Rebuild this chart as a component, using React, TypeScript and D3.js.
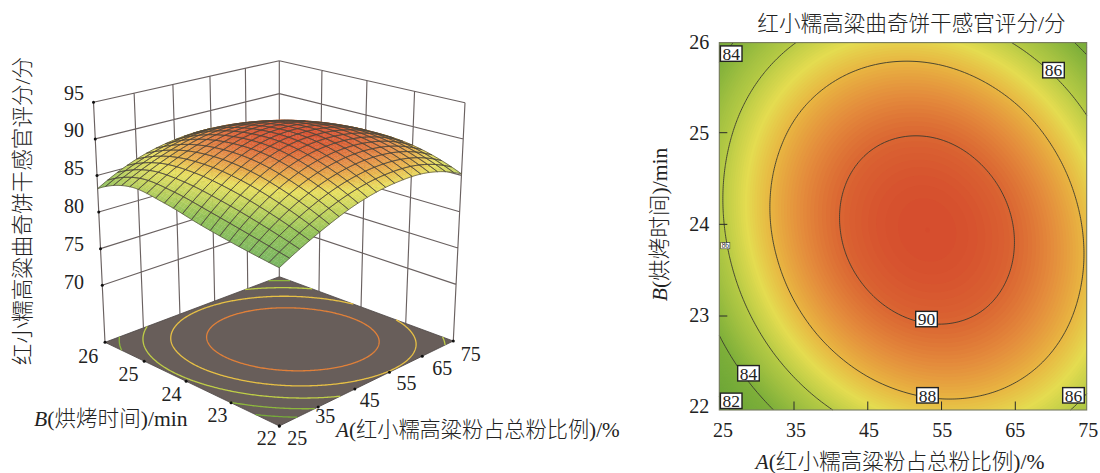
import React, { useMemo } from "react";
import * as d3 from "d3";

// ---------- data ----------
// contour plot (right panel)
const gridA = [25, 30, 35, 40, 45, 50, 55, 60, 65, 70, 75];
const gridB = [22, 22.4, 22.8, 23.2, 23.6, 24, 24.4, 24.8, 25.2, 25.6, 26];
const scoreB220 = [81.46, 83.25, 84.74, 85.91, 86.78, 87.34, 87.6, 87.54, 87.18, 86.51, 85.53];
const scoreB224 = [82.85, 84.63, 86.09, 87.24, 88.08, 88.6, 88.81, 88.71, 88.29, 87.56, 86.51];
const scoreB228 = [83.97, 85.73, 87.17, 88.29, 89.09, 89.58, 89.75, 89.6, 89.13, 88.34, 87.24];
const scoreB232 = [84.83, 86.56, 87.97, 89.06, 89.83, 90.28, 90.4, 90.21, 89.69, 88.85, 87.69];
const scoreB236 = [85.42, 87.12, 88.5, 89.56, 90.29, 90.7, 90.78, 90.54, 89.98, 89.1, 87.89];
const scoreB240 = [85.75, 87.42, 88.76, 89.77, 90.47, 90.83, 90.88, 90.6, 90.0, 89.07, 87.82];
const scoreB244 = [85.82, 87.44, 88.74, 89.71, 90.36, 90.69, 90.7, 90.38, 89.74, 88.77, 87.48];
const scoreB248 = [85.62, 87.19, 88.44, 89.37, 89.98, 90.27, 90.24, 89.88, 89.2, 88.2, 86.89];
const scoreB252 = [85.16, 86.68, 87.88, 88.76, 89.32, 89.57, 89.5, 89.11, 88.4, 87.37, 86.02];
const scoreB256 = [84.43, 85.89, 87.03, 87.86, 88.38, 88.59, 88.48, 88.05, 87.31, 86.26, 84.9];
const scoreB260 = [83.44, 84.83, 85.92, 86.69, 87.16, 87.32, 87.18, 86.72, 85.96, 84.89, 83.51];
const scoreRows = [scoreB220, scoreB224, scoreB228, scoreB232, scoreB236, scoreB240, scoreB244, scoreB248, scoreB252, scoreB256, scoreB260];

// surface heights, A = 25..75 step 10
const surfB220 = [81.4, 84.0, 86.0, 87.0, 86.9, 85.2];
const surfB228 = [82.2, 86.0, 88.4, 89.4, 89.0, 87.1];
const surfB236 = [83.2, 87.4, 89.9, 90.6, 89.9, 87.8];
const surfB244 = [84.4, 88.0, 90.1, 90.6, 89.7, 87.4];
const surfB252 = [85.0, 87.6, 89.2, 89.5, 88.4, 86.0];
const surfB260 = [83.2, 85.8, 87.1, 87.3, 85.9, 83.5];
const surfRows = [surfB220, surfB228, surfB236, surfB244, surfB252, surfB260];

const ticksA = [25, 35, 45, 55, 65, 75];
const ticksB = [22, 23, 24, 25, 26];
const ticksZ = [70, 75, 80, 85, 90, 95];
const contourLevels = [82, 84, 86, 88, 90];
const floorLevels = [83.1, 84.5, 86.1, 87.7, 89.3];
const labelValues = [84, 86, 86, 90, 84, 82, 88, 86];
const labelA = [26.62, 70.48, 25.82, 53.2, 28.97, 26.62, 53.33, 73.2];
const labelB = [25.88, 25.7, 23.79, 22.99, 22.4, 22.1, 22.16, 22.16];
const labelTiny = [false, false, true, false, false, false, false, false];

const scoreStops = [81.5, 84, 85.9, 87, 88, 89, 90, 90.9];
const planeColors = ["#67a336", "#7fb03a", "#b6ca45", "#e4dc50", "#e8b441", "#e48c3c", "#da6432", "#d54b2d"];
const surfaceColors = ["#7ab662", "#96c35a", "#cdd75f", "#e8de5f", "#e8b24b", "#e48c46", "#dc6437", "#d74e30"];

const titleText = "红小糯高粱曲奇饼干感官评分/分";
const aName = "(红小糯高粱粉占总粉比例)/%";
const bName = "(烘烤时间)/min";

// ---------- resampling of the read tables ----------
const ext = (r: number[]) => [3 * r[0] - 3 * r[1] + r[2], ...r, 3 * r[r.length - 1] - 3 * r[r.length - 2] + r[r.length - 3]];
const cubic = (p: number[], x: number) => {
  const f = Math.min(p.length - 4, Math.max(0, Math.floor(x)));
  const t = x - f;
  const [a, b, c, d] = p.slice(f, f + 4);
  return 0.5 * (2 * b + (c - a) * t + (2 * a - 5 * b + 4 * c - d) * t * t + (3 * b - a - 3 * c + d) * t * t * t);
};
const sampler = (rows: number[][]) => {
  const extRows = rows.map(ext);
  const nu = rows[0].length - 1, nv = rows.length - 1;
  return (u: number, v: number) => cubic(ext(extRows.map((r) => cubic(r, u * nu))), v * nv);
};
const scoreAt = sampler(scoreRows);
const surfAt = sampler(surfRows);
const uOf = d3.scaleLinear([25, 75], [0, 1]);
const vOf = d3.scaleLinear([22, 26], [0, 1]);

// ---------- 3D projection ----------
type Pt = [number, number];
const homography = (p0: Pt, p1: Pt, p2: Pt, p3: Pt) => {
  const dx1 = p1[0] - p2[0], dx2 = p3[0] - p2[0], sx = p0[0] - p1[0] + p2[0] - p3[0];
  const dy1 = p1[1] - p2[1], dy2 = p3[1] - p2[1], sy = p0[1] - p1[1] + p2[1] - p3[1];
  const den = dx1 * dy2 - dx2 * dy1;
  const g = (sx * dy2 - dx2 * sy) / den, h = (dx1 * sy - sx * dy1) / den;
  const a = p1[0] - p0[0] + g * p1[0], b = p3[0] - p0[0] + h * p3[0], c = p0[0];
  const d = p1[1] - p0[1] + g * p1[1], e = p3[1] - p0[1] + h * p3[1], f = p0[1];
  return (u: number, v: number): Pt => {
    const w = g * u + h * v + 1;
    return [(a * u + b * v + c) / w, (d * u + e * v + f) / w];
  };
};
const floorAt = homography([279.3, 426], [453.3, 341], [279.3, 276.7], [105, 342.3]);
const roofAt = homography([279.3, 155.6], [465, 102.7], [279.3, 60.7], [93.5, 102.3]);
const heightOf = d3.scaleLinear([62.2, 95], [0, 1]);
const project = (u: number, v: number, z: number): Pt => {
  const f = floorAt(u, v), t = roofAt(u, v), h = heightOf(z);
  return [f[0] + h * (t[0] - f[0]), f[1] + h * (t[1] - f[1])];
};
const line = d3.line();
const quad = (pts: Pt[]) => line(pts)! + "Z";

// floor tick label nudges
const aLabelDx = d3.scaleOrdinal<number, number>().domain(ticksA).range([18, 7, 15, 17, 20, 17.4]);
const aLabelDy = d3.scaleOrdinal<number, number>().domain(ticksA).range([12.3, 9, 10.4, 11, 11.7, 13]);
const bLabelDx = d3.scaleLinear([22, 26], [-12.6, -16.7]);
const bLabelDy = d3.scaleLinear([22, 26], [12.3, 13.7]);

// ---------- 2D scales ----------
const xPlot = d3.scaleLinear([25, 75], [719.3, 1086.7]);
const yPlot = d3.scaleLinear([22, 26], [410, 42.6]);
const xTick = d3.scaleLinear([35, 65], [794, 1015.3]);
const yTick = d3.scaleLinear([23, 25], [316, 132.7]);
const xTickLabel = d3.scaleLinear([25, 75], [723, 1088.3]);
const yTickLabel = d3.scaleLinear([22, 26], [405.5, 41.7]);
const zLabelY = d3.scaleLinear([70, 95], [281.5, 92.7]);
const planeColor = d3.scaleLinear<string>().domain(scoreStops).range(planeColors).clamp(true);
const surfaceColor = d3.scaleLinear<string>().domain(scoreStops).range(surfaceColors).clamp(true);

const SERIF = "'Liberation Serif','Noto Sans CJK SC',serif";
const LINE = "#6a6160";
const N = 185;

function Name({ letter, rest }: { letter: string; rest: string }) {
  return (
    <>
      <tspan fontStyle="italic">{letter}</tspan>
      <tspan>{rest}</tspan>
    </>
  );
}

export default function App() {
  const values = useMemo(() => {
    const out: number[] = new Array(N * N);
    for (let j = 0; j < N; j++) for (let i = 0; i < N; i++) out[j * N + i] = scoreAt(i / (N - 1), j / (N - 1));
    return out;
  }, []);

  const clampUnit = (c: number) => Math.max(0, Math.min(1, (c - 0.5) / (N - 1)));
  const gen = useMemo(() => d3.contours().size([N, N]), []);

  const fills = useMemo(() => {
    const path = d3.geoPath(
      d3.geoTransform({
        point(x: number, y: number) {
          (this as any).stream.point(xPlot(25 + 50 * clampUnit(x)), yPlot(22 + 4 * clampUnit(y)));
        },
      })
    );
    return d3.range(81.6, 91.0, 0.1).map((t) => ({ t, d: path(gen.thresholds([t])(values)[0] as any) || "" }));
  }, [values]);

  const ringsFor = (levels: number[]) =>
    levels.map((level) => {
      const g = gen.thresholds([level])(values)[0];
      const rings: [number, number][][] = [];
      g.coordinates.forEach((poly: any) => poly.forEach((ring: any) => rings.push(ring)));
      return { level, rings };
    });
  const levelLines = useMemo(() => ringsFor(contourLevels), [values]);
  const floorLines = useMemo(() => ringsFor(floorLevels), [values]);

  const ringPath = (ring: [number, number][], map: (u: number, v: number) => Pt) => {
    const inside = (p: [number, number]) => p[0] > 0 && p[0] < N && p[1] > 0 && p[1] < N;
    return (
      d3
        .line<[number, number]>()
        .defined(inside)
        .x((p) => map(clampUnit(p[0]), clampUnit(p[1]))[0])
        .y((p) => map(clampUnit(p[0]), clampUnit(p[1]))[1])(ring) || ""
    );
  };

  const surface = useMemo(() => {
    const cells = 20, sub = 3;
    const patches: { d: string; c: string }[] = [];
    const outlines: string[] = [];
    const P = (u: number, v: number) => project(u, v, surfAt(u, v));
    for (let i = 0; i < cells; i++)
      for (let j = 0; j < cells; j++) {
        const u0 = i / cells, u1 = (i + 1) / cells, v0 = j / cells, v1 = (j + 1) / cells;
        const cp = [P(u0, v0), P(u1, v0), P(u1, v1), P(u0, v1)];
        if (d3.polygonArea(cp) < 0) continue; // facing away: hidden behind the dome
        for (let a = 0; a < sub; a++)
          for (let b = 0; b < sub; b++) {
            const ua = u0 + (a / sub) / cells, ub = u0 + ((a + 1) / sub) / cells;
            const va = v0 + (b / sub) / cells, vb = v0 + ((b + 1) / sub) / cells;
            patches.push({
              d: quad([P(ua, va), P(ub, va), P(ub, vb), P(ua, vb)]),
              c: surfaceColor(surfAt((ua + ub) / 2, (va + vb) / 2)),
            });
          }
        const pts: Pt[] = [];
        for (let a = 0; a <= sub; a++) pts.push(P(u0 + (a / sub) / cells, v0));
        for (let b = 1; b <= sub; b++) pts.push(P(u1, v0 + (b / sub) / cells));
        for (let a = sub - 1; a >= 0; a--) pts.push(P(u0 + (a / sub) / cells, v1));
        for (let b = sub - 1; b >= 1; b--) pts.push(P(u0, v0 + (b / sub) / cells));
        outlines.push(quad(pts));
      }
    return { patches, outline: outlines.join("") };
  }, []);

  const floorQuad = quad([floorAt(0, 0), floorAt(1, 0), floorAt(1, 1), floorAt(0, 1)]);
  const wallLines: string[] = [];
  ticksA.forEach((a) => wallLines.push(line([project(uOf(a), 1, 62.2), project(uOf(a), 1, 95)])!));
  ticksB.forEach((b) => wallLines.push(line([project(1, vOf(b), 62.2), project(1, vOf(b), 95)])!));
  ticksZ.forEach((z) => {
    wallLines.push(line([project(0, 1, z), project(1, 1, z)])!);
    wallLines.push(line([project(1, 1, z), project(1, 0, z)])!);
  });

  return (
    <svg width={1100} height={473} style={{ position: "absolute", left: 0, top: 0, display: "block" }} fontFamily={SERIF} fill="#222">
      <rect width={1100} height={473} fill="#fff" />

      {/* ---- 3D response surface ---- */}
      <path d={wallLines.join("")} fill="none" stroke={LINE} strokeWidth={1.15} />
      <path d={floorQuad} fill="#685e5a" stroke="#4a4442" strokeWidth={0.8} />
      {floorLines.map(({ level, rings }) =>
        rings.map((r, i) => (
          <path key={level + "-" + i} d={ringPath(r, floorAt)} fill="none" stroke={planeColor(level)} strokeWidth={1.3} />
        ))
      )}
      {ticksZ.map((z) => {
        const p = project(0, 1, z);
        return <circle key={z} cx={p[0]} cy={p[1]} r={1.5} fill="#111" />;
      })}
      {ticksB.map((b) => {
        const p = floorAt(0, vOf(b));
        return <circle key={b} cx={p[0]} cy={p[1]} r={1.5} fill="#111" />;
      })}
      {ticksA.map((a) => {
        const p = floorAt(uOf(a), 0);
        return <circle key={a} cx={p[0]} cy={p[1]} r={1.5} fill="#111" />;
      })}
      <g>
        {surface.patches.map((q, i) => (
          <path key={i} d={q.d} fill={q.c} stroke={q.c} strokeWidth={0.35} />
        ))}
      </g>
      <path d={surface.outline} fill="none" stroke="#4b463c" strokeWidth={0.75} strokeOpacity={0.9} />

      <g fontSize={20} textAnchor="middle" dominantBaseline="central">
        {ticksZ.map((z) => (
          <text key={z} x={74} y={zLabelY(z)}>{z}</text>
        ))}
        {ticksB.map((b) => {
          const p = floorAt(0, vOf(b));
          return <text key={b} x={p[0] + bLabelDx(b)} y={p[1] + bLabelDy(b)}>{b}</text>;
        })}
        {ticksA.map((a) => {
          const p = floorAt(uOf(a), 0);
          return <text key={a} x={p[0] + aLabelDx(a)} y={p[1] + aLabelDy(a)}>{a}</text>;
        })}
      </g>
      <text transform="translate(29.5,211) rotate(-90)" fontSize={21.6} textAnchor="middle" fontWeight={300}>{titleText}</text>
      <text x={34} y={426} fontSize={21.6} fontWeight={300}><Name letter="B" rest={bName} /></text>
      <text x={336} y={437} fontSize={21.2} fontWeight={300}><Name letter="A" rest={aName} /></text>

      {/* ---- 2D contour plot ---- */}
      <rect x={xPlot(25)} y={yPlot(26)} width={xPlot(75) - xPlot(25)} height={yPlot(22) - yPlot(26)} fill={planeColor(81.5)} />
      {fills.map(({ t, d }) => (
        <path key={t} d={d} fill={planeColor(t)} />
      ))}
      {levelLines.map(({ level, rings }) =>
        rings.map((r, i) => (
          <path
            key={level + "-" + i}
            d={ringPath(r, (u, v) => [xPlot(25 + 50 * u), yPlot(22 + 4 * v)])}
            fill="none"
            stroke="#3a3a2e"
            strokeWidth={0.9}
          />
        ))
      )}
      <rect x={xPlot(25)} y={yPlot(26)} width={xPlot(75) - xPlot(25)} height={yPlot(22) - yPlot(26)} fill="none" stroke="#777a62" strokeWidth={1.1} />
      {[35, 45, 55, 65].map((a) => (
        <line key={a} x1={xTick(a)} x2={xTick(a)} y1={yPlot(22)} y2={yPlot(22) - 8.5} stroke="#2a2a2a" strokeWidth={1} />
      ))}
      {[23, 24, 25].map((b) => (
        <line key={b} x1={xPlot(25)} x2={xPlot(25) + 8} y1={yTick(b)} y2={yTick(b)} stroke="#2a2a2a" strokeWidth={1} />
      ))}
      {labelValues.map((v, i) => {
        const s = labelTiny[i] ? 0.42 : 1;
        const cx = xPlot(labelA[i]), cy = yPlot(labelB[i]);
        return (
          <g key={i}>
            <rect x={cx - 10.8 * s} y={cy - 7.7 * s} width={21.6 * s} height={15.4 * s} fill="#fff" stroke="#222" strokeWidth={labelTiny[i] ? 0.5 : 1.4} />
            <text x={cx} y={cy + 0.3} fontSize={17.5 * s} textAnchor="middle" dominantBaseline="central">{v}</text>
          </g>
        );
      })}
      <g fontSize={20} textAnchor="middle" dominantBaseline="central">
        {ticksA.map((a) => (
          <text key={a} x={xTickLabel(a)} y={430}>{a}</text>
        ))}
        {ticksB.map((b) => (
          <text key={b} x={699.3} y={yTickLabel(b)}>{b}</text>
        ))}
      </g>
      <text x={911.5} y={30.5} fontSize={21.6} textAnchor="middle" fontWeight={300}>{titleText}</text>
      <text x={900} y={469} fontSize={21.6} textAnchor="middle" fontWeight={300}><Name letter="A" rest={aName} /></text>
      <text transform="translate(667,224.5) rotate(-90)" fontSize={21.6} textAnchor="middle" fontWeight={300}><Name letter="B" rest={bName} /></text>
    </svg>
  );
}
